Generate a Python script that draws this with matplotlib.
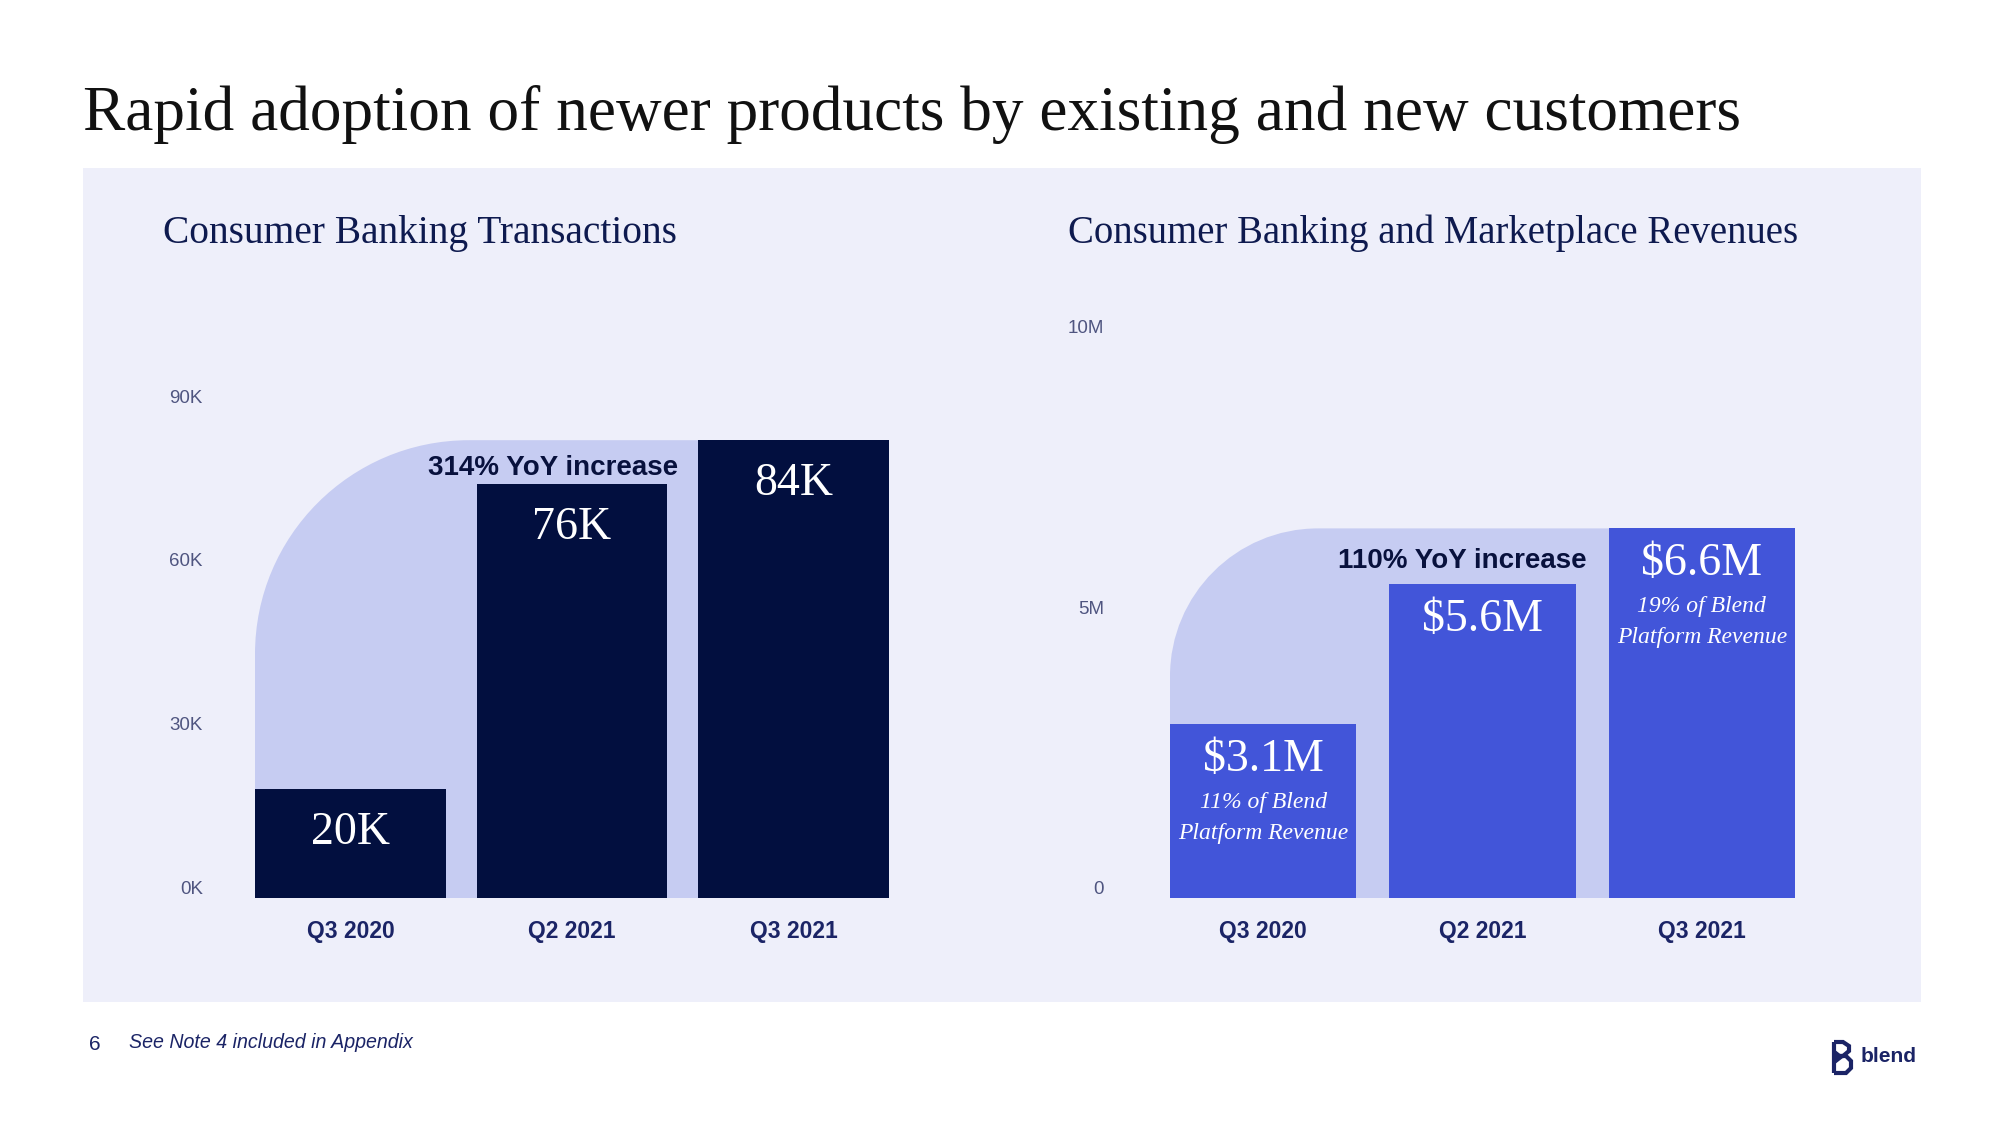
import matplotlib
matplotlib.use("Agg")
import matplotlib.pyplot as plt
from matplotlib.patches import Rectangle, PathPatch
from matplotlib.path import Path
from matplotlib.lines import Line2D
from matplotlib.transforms import ScaledTranslation, IdentityTransform

# ---------------- data ----------------
title = "Rapid adoption of newer products by existing and new customers"
quarters = ["Q3 2020", "Q2 2021", "Q3 2021"]

txn_title = "Consumer Banking Transactions"
txn_values = [20000, 76000, 84000]
txn_labels = ["20K", "76K", "84K"]
txn_ticks = [0, 30000, 60000, 90000]
txn_ticklabels = ["0K", "30K", "60K", "90K"]
txn_growth = "314% YoY increase"

rev_title = "Consumer Banking and Marketplace Revenues"
rev_values = [3.1e6, 5.6e6, 6.6e6]
rev_labels = ["$3.1M", "$5.6M", "$6.6M"]
rev_notes = ["11% of Blend\nPlatform Revenue", "", "19% of Blend\nPlatform Revenue"]
rev_ticks = [0, 5e6, 10e6]
rev_ticklabels = ["0", "5M", "10M"]
rev_growth = "110% YoY increase"

page = "6"
footnote = "See Note 4 included in Appendix"
brand = "blend"

# ---------------- style ----------------
SERIF = "Liberation Serif"
SANS = "Liberation Sans"
PANEL = "#EEEFFA"
SHAPE = "#C6CCF2"
DARK_BAR = "#020F3F"
BLUE_BAR = "#4255D9"
NAVY = "#1B2466"
TEXT_DARK = "#08113D"
TICK = "#4F5580"

W, H, DPI = 2000, 1125, 100
fig = plt.figure(figsize=(W / DPI, H / DPI), dpi=DPI)
fig.patch.set_facecolor("white")
renderer = fig.canvas.get_renderer()


def fy(py):  # pixel from top -> figure fraction
    return 1 - py / H


def fit(t, target_px):
    bb = t.get_window_extent(renderer)
    t.set_fontsize(t.get_fontsize() * target_px / bb.width)


# panel background
fig.add_artist(Rectangle((83 / W, fy(1002)), (1921 - 83) / W, (1002 - 168) / H,
                         transform=fig.transFigure, facecolor=PANEL,
                         edgecolor="none", zorder=0))

# title & subtitles
t = fig.text(83 / W, fy(130), title, family=SERIF, fontsize=46, color="#111111",
             ha="left", va="baseline")
fit(t, 1657)
t = fig.text(163 / W, fy(243), txn_title, family=SERIF, fontsize=27, color="#0E1A4F",
             ha="left", va="baseline")
fit(t, 514)
t = fig.text(1068 / W, fy(243), rev_title, family=SERIF, fontsize=27, color="#0E1A4F",
             ha="left", va="baseline")
fit(t, 730)


def panel_chart(left_px, right_px, base_px, px_per_unit, ymax, width, values,
                labels, bar_color, ticks, ticklabels, tick_pad_px, radius_px,
                growth, growth_dy):
    height_px = px_per_unit * ymax
    ax = fig.add_axes([left_px / W, (H - base_px) / H,
                       (right_px - left_px) / W, height_px / H])
    ax.set_facecolor("none")
    for s in ax.spines.values():
        s.set_visible(False)
    x = list(range(len(values)))
    ax.bar(x, values, width=width, color=bar_color, zorder=2)
    ax.set_xlim(-width / 2, len(values) - 1 + width / 2)
    ax.set_ylim(0, ymax)

    # rounded growth backdrop
    px0, py0 = ax.transData.transform((-width / 2, 0))
    px1, pyt = ax.transData.transform((len(values) - 1, values[-1]))
    r = radius_px
    k = 0.5523 * r
    verts = [(px0, py0), (px1, py0), (px1, pyt), (px0 + r, pyt),
             (px0 + r - k, pyt), (px0, pyt - r + k), (px0, pyt - r), (px0, py0)]
    codes = [Path.MOVETO, Path.LINETO, Path.LINETO, Path.LINETO,
             Path.CURVE4, Path.CURVE4, Path.CURVE4, Path.CLOSEPOLY]
    ax.add_patch(PathPatch(Path(verts, codes), transform=IdentityTransform(),
                           facecolor=SHAPE, edgecolor="none", zorder=1))

    # growth text
    ax.annotate(growth, xy=(1 + width / 2, values[-1]), xytext=(11, growth_dy),
                textcoords="offset pixels", ha="right", va="baseline",
                family=SANS, fontweight="bold", fontsize=20, color=TEXT_DARK,
                zorder=3)

    # ticks
    ax.set_xticks(x)
    ax.set_xticklabels(quarters, family=SANS, fontweight="bold", fontsize=16.5,
                       color=NAVY)
    ax.tick_params(axis="x", length=0, pad=16)
    ax.set_yticks(ticks)
    ax.set_yticklabels(ticklabels, family=SANS, fontsize=13.5, color=TICK)
    ax.tick_params(axis="y", length=0, pad=tick_pad_px * 72 / DPI)
    off = ScaledTranslation(0, 11 / DPI, fig.dpi_scale_trans)
    for lab in ax.get_yticklabels():
        lab.set_transform(lab.get_transform() + off)
    return ax


ax1 = panel_chart(255, 889, 898, 5.45e-3, 100000, 0.862, txn_values, txn_labels,
                  DARK_BAR, txn_ticks, txn_ticklabels, 52, 214, txn_growth, -35)
for i, (v, lab) in enumerate(zip(txn_values, txn_labels)):
    ax1.annotate(lab, xy=(i, v), xytext=(0, -44), textcoords="offset pixels",
                 ha="center", va="center", family=SERIF, fontsize=33,
                 color="white", zorder=3)

ax2 = panel_chart(1170, 1795, 898, 56e-6, 11e6, 0.85, rev_values, rev_labels,
                  BLUE_BAR, rev_ticks, rev_ticklabels, 66, 148, rev_growth, -40)
for i, (v, lab, note) in enumerate(zip(rev_values, rev_labels, rev_notes)):
    ax2.annotate(lab, xy=(i, v), xytext=(0, -35), textcoords="offset pixels",
                 ha="center", va="center", family=SERIF, fontsize=33,
                 color="white", zorder=3)
    if note:
        for j, line in enumerate(note.split("\n")):
            ax2.annotate(line, xy=(i, v), xytext=(0, -78 - 31 * j),
                         textcoords="offset pixels", ha="center", va="center",
                         family=SERIF, style="italic", fontsize=17,
                         color="white", zorder=3)

# footer
fig.text(89 / W, fy(1044), page, family=SANS, fontsize=15, color=NAVY,
         ha="left", va="center")
t = fig.text(129 / W, fy(1043), footnote, family=SANS, style="italic",
             fontsize=13, color=NAVY, ha="left", va="center")
fit(t, 283)

# logo
t = fig.text(1861 / W, fy(1057), brand, family=SANS, fontweight="bold",
             fontsize=17, color=NAVY, ha="left", va="center")
fit(t, 56)
lw = 3.0
segs = [
    [(1834, 1042), (1834, 1073)],
    [(1834, 1042), (1843, 1042), (1849, 1046), (1849, 1051), (1843, 1056), (1837, 1056)],
    [(1840, 1056), (1846, 1056), (1851, 1061), (1851, 1068), (1846, 1073), (1834, 1073)],
]
for seg in segs:
    xs = [p[0] / W for p in seg]
    ys = [fy(p[1]) for p in seg]
    fig.add_artist(Line2D(xs, ys, transform=fig.transFigure, color=NAVY, lw=lw,
                          solid_joinstyle="miter", solid_capstyle="butt"))
tri = [(1834, 1050), (1843, 1057), (1834, 1064)]
fig.add_artist(plt.Polygon([(p[0] / W, fy(p[1])) for p in tri], closed=True,
                           transform=fig.transFigure, color=NAVY))

fig.savefig("out.png", dpi=DPI, facecolor="white")
